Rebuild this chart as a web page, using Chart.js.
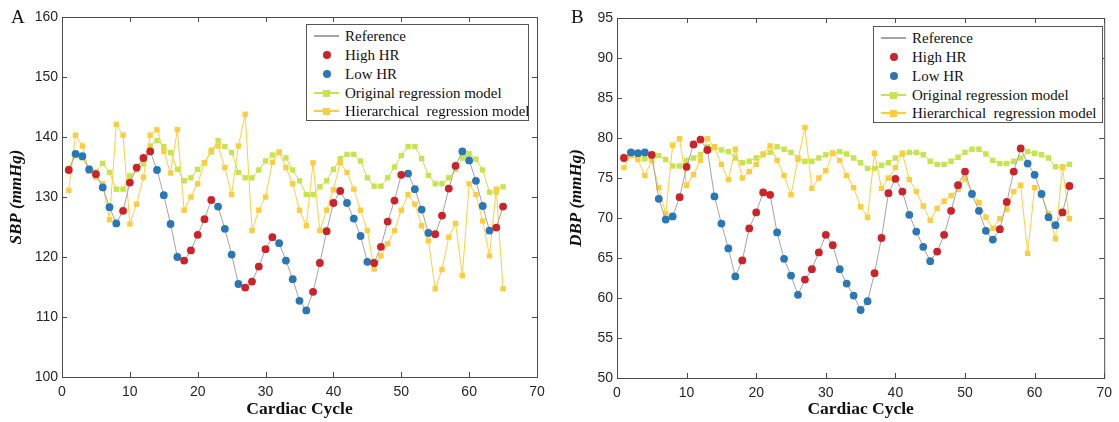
<!DOCTYPE html>
<html>
<head>
<meta charset="utf-8">
<script src="https://cdn.jsdelivr.net/npm/chart.js@4.4.0/dist/chart.umd.min.js"></script>
<style>
  body { margin: 0; background: #fff; width: 1119px; height: 422px; overflow: hidden; position: relative; font-family: "Liberation Serif", serif; }
  canvas { position: absolute; top: 0; }
  .tag { position: absolute; font-size: 19px; color: #111; line-height: 20px; }
  .legend { position: absolute; border: 1px solid #555; background: #fff; color: #111; font-size: 15px; box-sizing: border-box; }
  .row { position: absolute; left: 0; height: 18px; line-height: 18px; white-space: nowrap; }
  .ln { position: absolute; height: 2px; top: 8px; }
  .sq { position: absolute; width: 7px; height: 7px; top: 5.5px; }
  .dot { position: absolute; width: 8px; height: 8px; top: 5px; border-radius: 50%; }
</style>
</head>
<body>
<canvas id="chartA" width="560" height="422" style="left:0px"></canvas>
<canvas id="chartB" width="559" height="422" style="left:560px"></canvas>
<div class="tag" style="left:11px;top:7px">A</div>
<div class="tag" style="left:571px;top:7px">B</div>
<div class="legend" id="legA" style="left:306px;top:24px;width:223px;height:97px"></div>
<div class="legend" id="legB" style="left:873px;top:26px;width:230px;height:97px"></div>
<script>
// cycles 1..65
const hrGroup = [
  "H","L","L","L","H","L","L","L","H","H","H","H","H","L","L","L","L","H","H","H",
  "H","H","L","L","L","L","H","H","H","H","H","L","L","L","L","L","H","H","H","H",
  "H","L","L","L","L","H","H","H","H","H","L","L","L","L","H","H","H","H","L","L",
  "L","L","L","H","H"
];

const sbpRef = [
  134.5,137.2,136.8,134.6,133.8,131.6,128.3,125.6,127.7,132.4,134.9,136.5,137.6,134.5,130.3,125.5,120.0,119.4,121.1,123.7,
  126.3,129.5,128.4,124.7,120.4,115.5,114.9,115.9,118.4,121.3,123.3,122.3,119.4,116.3,112.7,111.1,114.2,119.0,124.3,129.0,
  131.0,129.0,126.4,123.5,119.2,119.0,121.7,125.9,129.4,133.7,133.9,131.3,127.9,124.0,123.8,126.9,131.4,135.2,137.6,136.1,
  132.7,128.5,124.4,124.9,128.4
];
const sbpOrig = [
  134.8,136.9,136.5,134.8,134.2,135.6,134.1,131.3,131.3,133.5,134.5,135.5,138.5,139.4,138.4,137.4,134.6,132.7,133.2,134.6,
  135.7,137.5,139.4,138.4,137.4,134.1,133.2,133.2,134.5,136.0,137.0,137.4,136.5,134.5,132.7,130.4,130.4,131.7,132.7,134.6,
  136.4,137.1,137.1,136.0,133.2,131.8,131.8,133.2,135.0,136.9,138.4,138.4,136.4,133.6,132.2,132.2,133.2,134.6,136.5,137.2,
  136.3,134.5,130.8,130.8,131.7
];
const sbpHier = [
  131.1,140.3,138.5,134.3,133.3,132.2,126.2,142.1,140.3,125.5,128.8,133.3,140.3,141.2,137.6,134.0,141.2,127.8,130.0,132.2,
  135.7,137.8,138.5,134.9,130.4,138.5,143.8,124.4,127.8,130.0,135.8,137.5,134.9,132.2,127.8,125.2,135.7,124.4,127.8,131.2,
  135.7,134.1,131.3,127.8,124.4,118.0,120.2,122.2,124.4,127.8,130.4,128.8,125.2,122.7,114.7,117.9,123.3,125.6,116.9,132.2,
  130.4,126.0,120.2,131.3,114.7
];

const dbpRef = [
  77.5,78.2,78.1,78.2,77.9,72.4,69.8,70.2,72.6,76.4,79.2,79.8,78.5,72.7,69.3,66.2,62.7,64.7,68.7,70.7,
  73.2,72.9,68.2,64.9,62.8,60.4,62.3,63.6,65.7,67.9,66.6,63.6,61.8,60.3,58.5,59.6,63.1,67.5,73.1,74.9,
  73.3,70.4,68.3,66.4,64.6,65.8,67.9,70.9,74.1,75.8,73.0,70.9,68.4,67.3,68.6,72.0,75.8,78.7,76.8,75.4,
  73.0,70.1,69.1,70.7,74.0
];
const dbpOrig = [
  77.6,78.0,77.8,77.4,77.6,77.8,77.3,76.5,76.5,77.2,77.5,77.9,78.9,78.9,78.5,78.3,77.5,76.9,77.1,77.5,
  77.9,78.2,78.9,78.6,78.2,77.5,77.1,77.1,77.5,77.9,78.1,78.3,78.0,77.5,76.9,76.2,76.2,76.6,76.9,77.5,
  78.0,78.2,78.2,77.9,77.1,76.7,76.7,77.1,77.6,78.2,78.6,78.6,78.0,77.2,76.8,76.8,77.1,77.5,78.3,78.1,
  77.9,77.5,76.4,76.4,76.7
];
const dbpHier = [
  76.3,77.8,77.3,75.3,77.2,73.8,70.5,79.1,79.9,74.1,75.4,77.2,79.9,78.8,76.7,74.8,78.6,75.0,75.8,76.7,
  78.0,79.0,77.2,75.3,72.9,77.3,81.3,73.7,75.0,75.9,78.1,77.2,75.3,73.8,71.4,70.1,78.1,73.7,75.0,76.3,
  78.1,74.8,73.3,71.5,69.7,71.2,72.1,72.8,73.6,74.9,73.2,71.9,70.1,68.7,69.9,71.1,73.3,74.1,65.6,73.8,
  72.9,70.5,67.4,76.3,69.9
];

const seriesNames = ["Reference", "High HR", "Low HR", "Original regression model", "Hierarchical  regression model"];
const colors = { ref: "#a3a3a3", high: "#cc2229", low: "#2878b8", orig: "#c6e54c", hier: "#ffcd3c" };

Chart.defaults.font.family = "Liberation Sans";
Chart.defaults.color = "#262626";

// box round the plot with inward ticks on all four sides
const framePlugin = {
  id: "frame",
  beforeDatasetsDraw(chart) {
    const { ctx, chartArea: a, scales: { x, y } } = chart;
    ctx.save();
    ctx.strokeStyle = "#4a4a4a";
    ctx.lineWidth = 1;
    ctx.strokeRect(a.left + 0.5, a.top + 0.5, a.right - a.left, a.bottom - a.top);
    ctx.beginPath();
    x.ticks.forEach(t => {
      const px = Math.round(x.getPixelForValue(t.value)) + 0.5;
      ctx.moveTo(px, a.bottom); ctx.lineTo(px, a.bottom - 5);
      ctx.moveTo(px, a.top); ctx.lineTo(px, a.top + 5);
    });
    y.ticks.forEach(t => {
      const py = Math.round(y.getPixelForValue(t.value)) + 0.5;
      ctx.moveTo(a.left, py); ctx.lineTo(a.left + 5, py);
      ctx.moveTo(a.right, py); ctx.lineTo(a.right - 5, py);
    });
    ctx.stroke();
    ctx.restore();
  }
};

function toPoints(values, group) {
  const pts = [];
  values.forEach((v, i) => {
    if (!group || hrGroup[i] === group) pts.push({ x: i + 1, y: v });
  });
  return pts;
}

function makeChart(id, ref, orig, hier, yMin, yMax, yStep, yTitle, yWidth, xHeight, pad) {
  return new Chart(document.getElementById(id), {
    type: "line",
    data: {
      datasets: [
        { label: seriesNames[0], data: toPoints(ref), borderColor: colors.ref, borderWidth: 1, pointRadius: 0, order: 2 },
        { label: seriesNames[1], data: toPoints(ref, "H"), showLine: false, pointStyle: "circle", pointRadius: 3.9,
          backgroundColor: colors.high, borderColor: colors.high, borderWidth: 0, order: 0 },
        { label: seriesNames[2], data: toPoints(ref, "L"), showLine: false, pointStyle: "circle", pointRadius: 3.9,
          backgroundColor: colors.low, borderColor: colors.low, borderWidth: 0, order: 0 },
        { label: seriesNames[3], data: toPoints(orig), borderColor: colors.orig, borderWidth: 1, pointStyle: "rect",
          pointRadius: 3.8, pointBackgroundColor: colors.orig, pointBorderWidth: 0, order: 4 },
        { label: seriesNames[4], data: toPoints(hier), borderColor: colors.hier, borderWidth: 1, pointStyle: "rect",
          pointRadius: 3.8, pointBackgroundColor: colors.hier, pointBorderWidth: 0, order: 3 }
      ]
    },
    options: {
      responsive: false,
      animation: false,
      layout: { padding: pad },
      plugins: { legend: { display: false }, tooltip: { enabled: false } },
      scales: {
        x: {
          type: "linear", min: 0, max: 70,
          grid: { display: false, drawTicks: false }, border: { display: false },
          ticks: { stepSize: 10, font: { size: 14 }, padding: 7, maxRotation: 0 },
          title: { display: true, text: "Cardiac Cycle", color: "#111", padding: { top: 0, bottom: 2 },
                   font: { family: "Liberation Serif", size: 17.5, weight: "bold" } },
          afterFit: s => { s.height = xHeight; }
        },
        y: {
          type: "linear", min: yMin, max: yMax,
          grid: { display: false, drawTicks: false }, border: { display: false },
          ticks: { stepSize: yStep, font: { size: 14 }, padding: 4 },
          title: { display: true, text: yTitle, color: "#111", padding: { top: 6, bottom: 0 },
                   font: { family: "Liberation Serif", size: 17, weight: "bold", style: "italic" } },
          afterFit: s => { s.width = yWidth; }
        }
      }
    },
    plugins: [framePlugin]
  });
}

makeChart("chartA", sbpRef, sbpOrig, sbpHier, 100, 160, 10, "SBP (mmHg)", 62, 45, { top: 17, right: 23, bottom: 0, left: 0 });
makeChart("chartB", dbpRef, dbpOrig, dbpHier, 50, 95, 5, "DBP (mmHg)", 57, 44, { top: 18, right: 14, bottom: 0, left: 0 });

// legends drawn as html text
function buildLegend(id, rowTops) {
  const box = document.getElementById(id);
  const kinds = [
    { c: colors.ref, line: true, mark: null },
    { c: colors.high, line: false, mark: "dot" },
    { c: colors.low, line: false, mark: "dot" },
    { c: colors.orig, line: true, mark: "sq" },
    { c: colors.hier, line: true, mark: "sq" }
  ];
  seriesNames.forEach((name, i) => {
    const k = kinds[i];
    const row = document.createElement("div");
    row.className = "row";
    row.style.top = rowTops[i] + "px";
    row.style.width = "100%";
    let html = "";
    if (k.line) html += `<div class="ln" style="left:7px;width:25px;background:${k.c}"></div>`;
    if (k.mark === "sq") html += `<div class="sq" style="left:16px;background:${k.c}"></div>`;
    if (k.mark === "dot") html += `<div class="dot" style="left:15.5px;background:${k.c}"></div>`;
    html += `<span style="position:absolute;left:38px;top:0">${name.replace(/  /g, "&nbsp; ")}</span>`;
    row.innerHTML = html;
    box.appendChild(row);
  });
}
buildLegend("legA", [2, 21, 40, 59, 77]);
buildLegend("legB", [2, 21, 40, 59, 77]);
</script>
</body>
</html>
